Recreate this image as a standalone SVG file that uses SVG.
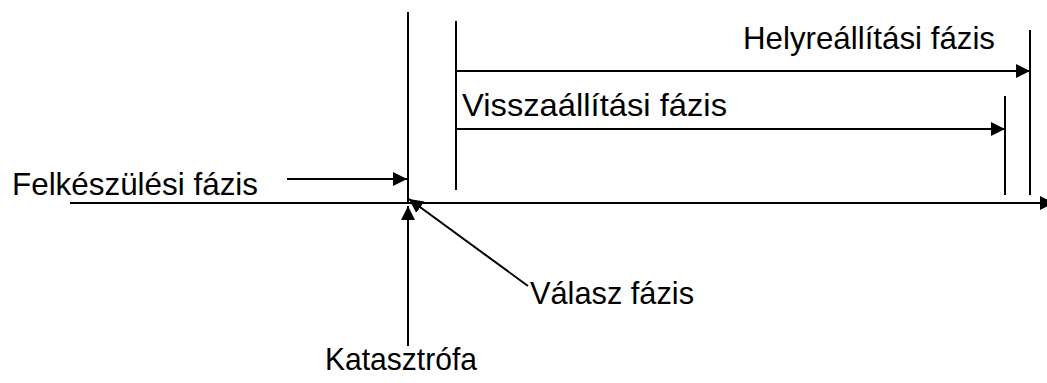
<svg xmlns="http://www.w3.org/2000/svg" width="1047" height="383" viewBox="0 0 1047 383">
  <style>
    .ln { stroke: #000; stroke-width: 2; fill: none; }
    .arr { marker-end: url(#head); }
    .lbl { font-family: "Liberation Sans", Arial, sans-serif; font-size: 32px; fill: #000; }
  </style>
  <defs>
    <marker id="head" markerUnits="userSpaceOnUse" markerWidth="15" markerHeight="15" refX="14" refY="7" orient="auto">
      <path d="M0,0 L14,7 L0,14 Z" fill="#000"/>
    </marker>
  </defs>
  <rect width="1047" height="383" fill="#fff"/>

  <!-- timeline axis, phase markers and pointers -->
  <g id="connectors">
    <line class="ln arr" x1="70" y1="203" x2="1054" y2="203"/>
    <line class="ln" x1="408" y1="12" x2="408" y2="203"/>
    <line class="ln" x1="456" y1="21" x2="456" y2="190"/>
    <line class="ln" x1="1005" y1="96" x2="1005" y2="195"/>
    <line class="ln" x1="1030" y1="30" x2="1030" y2="195"/>
    <line class="ln arr" x1="456" y1="71" x2="1030" y2="71"/>
    <line class="ln arr" x1="456" y1="129" x2="1005" y2="129"/>
    <line class="ln arr" x1="287" y1="179" x2="407" y2="179"/>
    <line class="ln arr" x1="408" y1="346" x2="408" y2="206"/>
    <line class="ln arr" x1="528" y1="286" x2="409" y2="199"/>
  </g>

  <g id="helyreallitasi">
    <text class="lbl" x="743" y="49" textLength="252" lengthAdjust="spacingAndGlyphs">Helyreállítási fázis</text>
  </g>
  <g id="visszaallitasi">
    <text class="lbl" x="462" y="116" textLength="265" lengthAdjust="spacingAndGlyphs">Visszaállítási fázis</text>
  </g>
  <g id="felkeszulesi">
    <text class="lbl" x="12" y="195" textLength="246" lengthAdjust="spacingAndGlyphs">Felkészülési fázis</text>
  </g>
  <g id="valasz">
    <text class="lbl" x="530" y="304" textLength="164" lengthAdjust="spacingAndGlyphs">Válasz fázis</text>
  </g>
  <g id="katasztrofa">
    <text class="lbl" x="325" y="370" textLength="152" lengthAdjust="spacingAndGlyphs">Katasztrófa</text>
  </g>
</svg>
